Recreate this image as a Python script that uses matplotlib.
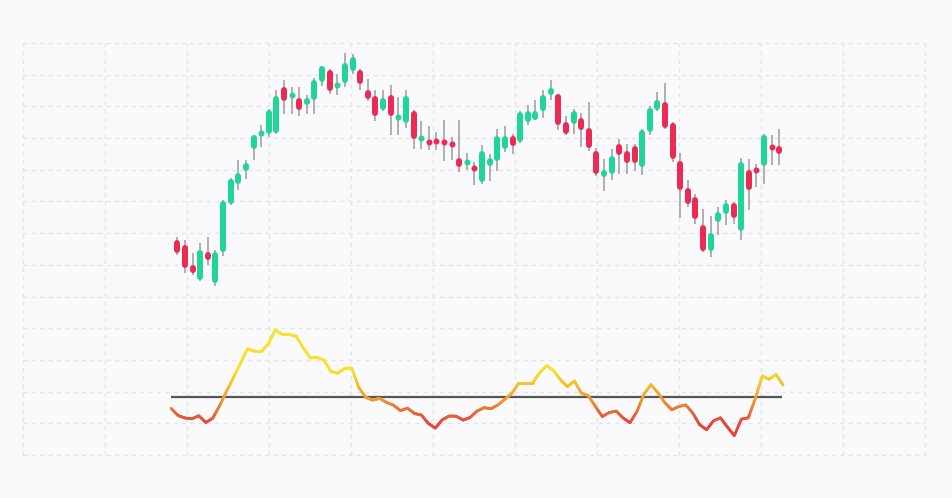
import numpy as np
import matplotlib
matplotlib.use("Agg")
import matplotlib.pyplot as plt
from matplotlib.collections import LineCollection
from matplotlib.colors import LinearSegmentedColormap, Normalize

# ---------------- data ----------------
opens = [112.1, 111.0, 107.1, 104.1, 109.7, 103.5, 109.7, 119.2, 123.3, 125.8,
         130.3, 133.0, 133.3, 133.5, 142.7, 140.7, 140.5, 139.0, 140.0, 143.7,
         146.0, 142.5, 143.5, 145.8, 146.0, 142.0, 140.8, 138.1, 141.0, 136.0,
         135.5, 137.9, 132.0, 131.9, 132.0, 132.1, 131.7, 128.5, 127.2, 127.0,
         123.7, 126.8, 127.9, 130.3, 132.9, 131.7, 135.7, 136.1, 137.9, 141.1,
         141.2, 135.7, 135.2, 136.3, 134.3, 129.8, 124.7, 125.3, 131.2, 129.8,
         130.8, 126.7, 133.7, 138.0, 139.7, 135.3, 127.8, 122.5, 120.7, 115.1,
         109.8, 115.7, 117.3, 119.5, 113.9, 126.0, 126.5, 126.8, 131.2, 130.8]
highs = [112.7, 112.0, 109.5, 111.5, 112.7, 110.1, 120.1, 124.5, 128.0, 128.0,
         133.1, 135.0, 138.3, 142.1, 144.0, 142.7, 142.7, 141.0, 144.5, 146.9,
         146.3, 145.3, 149.5, 149.2, 146.3, 144.2, 142.0, 142.0, 143.0, 140.7,
         142.0, 138.0, 135.8, 134.8, 133.7, 136.0, 132.7, 136.0, 129.5, 127.7,
         131.1, 129.3, 134.3, 134.9, 133.3, 137.8, 139.1, 140.1, 142.0, 144.0,
         141.3, 136.8, 138.3, 137.5, 139.7, 130.5, 128.2, 130.3, 132.3, 131.3,
         131.2, 134.3, 138.8, 141.7, 143.5, 135.7, 129.5, 124.1, 121.2, 118.3,
         116.8, 118.7, 120.1, 119.7, 128.5, 128.3, 127.2, 133.3, 133.0, 134.3]
lows = [109.0, 105.5, 105.0, 103.8, 107.0, 102.9, 108.8, 119.0, 122.0, 124.3,
        128.1, 130.7, 132.7, 133.2, 137.3, 137.3, 136.8, 137.3, 137.2, 142.8,
        141.3, 141.0, 142.7, 145.3, 142.0, 139.8, 135.8, 137.9, 133.0, 133.0,
        134.5, 130.3, 130.3, 130.1, 130.1, 127.9, 128.1, 125.7, 126.1, 123.1,
        123.2, 123.9, 125.9, 129.7, 129.3, 131.5, 135.0, 136.0, 136.5, 140.0,
        134.0, 133.0, 133.3, 130.7, 129.9, 124.9, 121.9, 124.1, 125.3, 125.3,
        125.9, 125.0, 133.0, 137.9, 134.3, 127.7, 116.5, 118.7, 115.3, 109.7,
        108.7, 113.0, 115.0, 115.3, 112.1, 118.0, 122.7, 123.3, 127.0, 127.0]
closes = [109.5, 106.5, 105.5, 110.1, 108.0, 109.7, 119.9, 124.3, 125.5, 127.5,
          133.0, 133.7, 138.0, 140.8, 139.9, 141.3, 138.1, 140.5, 144.1, 146.8,
          141.8, 143.7, 147.3, 148.7, 143.2, 140.2, 136.8, 140.3, 136.8, 137.2,
          140.8, 132.2, 132.9, 131.2, 131.6, 131.2, 130.8, 126.7, 128.1, 126.0,
          129.8, 128.3, 132.8, 132.9, 130.8, 137.7, 137.8, 137.8, 141.1, 142.5,
          135.0, 133.3, 137.8, 134.0, 130.5, 125.3, 126.0, 128.9, 129.1, 127.5,
          127.5, 134.1, 138.3, 140.0, 134.5, 128.3, 122.1, 119.2, 116.3, 109.9,
          113.5, 117.7, 119.5, 116.5, 127.7, 122.1, 125.5, 133.1, 130.1, 129.3]

oscillator = [-1.16, -1.87, -2.13, -2.21, -1.91, -2.58, -2.15, -0.88, 0.54, 1.94,
              3.36, 4.78, 4.55, 4.50, 5.30, 6.67, 6.23, 6.23, 6.04, 4.90,
              3.88, 3.93, 3.66, 2.51, 2.34, 2.85, 2.86, 0.92, -0.07, -0.34,
              -0.16, -0.58, -0.85, -1.40, -1.14, -1.68, -1.83, -2.67, -3.14, -2.31,
              -1.93, -1.95, -2.34, -2.08, -1.44, -1.10, -1.20, -0.83, -0.25, 0.32,
              1.37, 1.37, 1.37, 2.40, 3.09, 2.62, 1.69, 1.02, 1.57, 0.35,
              0.11, -0.95, -1.98, -1.59, -1.44, -2.12, -2.60, -1.47, 0.25, 1.21,
              0.39, -0.60, -1.31, -0.99, -0.82, -1.61, -2.79, -3.30, -2.41, -2.11,
              -3.04, -3.89, -2.25, -2.11, -0.22, 2.08, 1.74, 2.23, 1.17]

# ---------------- style ----------------
BG = "#fafafc"
GRID = "#e4e4ea"
UP = "#20d598"
DOWN = "#ec2b55"
WICK = "#9c9c9c"
ZERO = "#555555"

W, H = 952, 498
DPI = 100
fig = plt.figure(figsize=(W / DPI, H / DPI), dpi=DPI, facecolor=BG)
rect = [23 / W, (H - 455) / H, 902 / W, 412 / H]

# background grid
ax_bg = fig.add_axes(rect)
ax_bg.set_facecolor(BG)
ax_bg.set_xlim(0, 11)
ax_bg.set_ylim(0, 13)
ax_bg.set_xticks(range(12))
ax_bg.set_yticks(range(14))
ax_bg.grid(True, color=GRID, linestyle=(0, (3, 3)), linewidth=1.0, clip_on=False)
ax_bg.tick_params(length=0, labelbottom=False, labelleft=False)
for s in ax_bg.spines.values():
    s.set_visible(False)

# candlesticks
ax_p = fig.add_axes(rect)
ax_p.patch.set_alpha(0)
ax_p.axis("off")
ax_p.set_xlim(-20.25, 98.12)
ax_p.set_ylim(69.0, 151.4)

body_px = 6.0
body_lw = body_px * 72 / DPI
units_per_px = (151.4 - 69.0) / 412.0
cap = (body_px / 2) * units_per_px

x = np.arange(len(opens))
ax_p.vlines(x, lows, highs, color=WICK, linewidth=1.1, zorder=1)
for xi, o, h, l, c in zip(x, opens, highs, lows, closes):
    col = UP if c >= o else DOWN
    top = max(o, c) - cap
    bot = min(o, c) + cap
    if top - bot < 0.3 * units_per_px:
        ax_p.plot([xi], [(o + c) / 2], marker="o", markersize=body_lw,
                  markeredgewidth=0, color=col, linestyle="none", zorder=2)
    else:
        ax_p.plot([xi, xi], [bot, top], color=col, linewidth=body_lw,
                  solid_capstyle="round", zorder=2)

# oscillator
ax_o = fig.add_axes(rect)
ax_o.patch.set_alpha(0)
ax_o.axis("off")
ax_o.set_xlim(-21.28, 108.41)
ax_o.set_ylim(-5.83, 35.37)

n = len(oscillator)
ax_o.hlines(0, 0, n - 1 - 0.2, color=ZERO, linewidth=1.6, zorder=1)

cmap = LinearSegmentedColormap.from_list(
    "osc", [(0.0, "#e4483c"), (0.5, "#f0a232"), (1.0, "#f7e22c")])
norm = Normalize(vmin=-2.6, vmax=2.6)

xs = np.arange(n, dtype=float)
ys = np.asarray(oscillator, dtype=float)
segs, vals = [], []
sub = 10
for i in range(n - 1):
    t = np.linspace(0, 1, sub + 1)
    px = xs[i] + (xs[i + 1] - xs[i]) * t
    py = ys[i] + (ys[i + 1] - ys[i]) * t
    for j in range(sub):
        segs.append([(px[j], py[j]), (px[j + 1], py[j + 1])])
        vals.append((py[j] + py[j + 1]) / 2)
lc = LineCollection(segs, colors=cmap(norm(np.array(vals))), linewidths=2.0,
                    capstyle="round", joinstyle="round", zorder=2)
ax_o.add_collection(lc)

fig.savefig("out.png", dpi=DPI, facecolor=BG)
